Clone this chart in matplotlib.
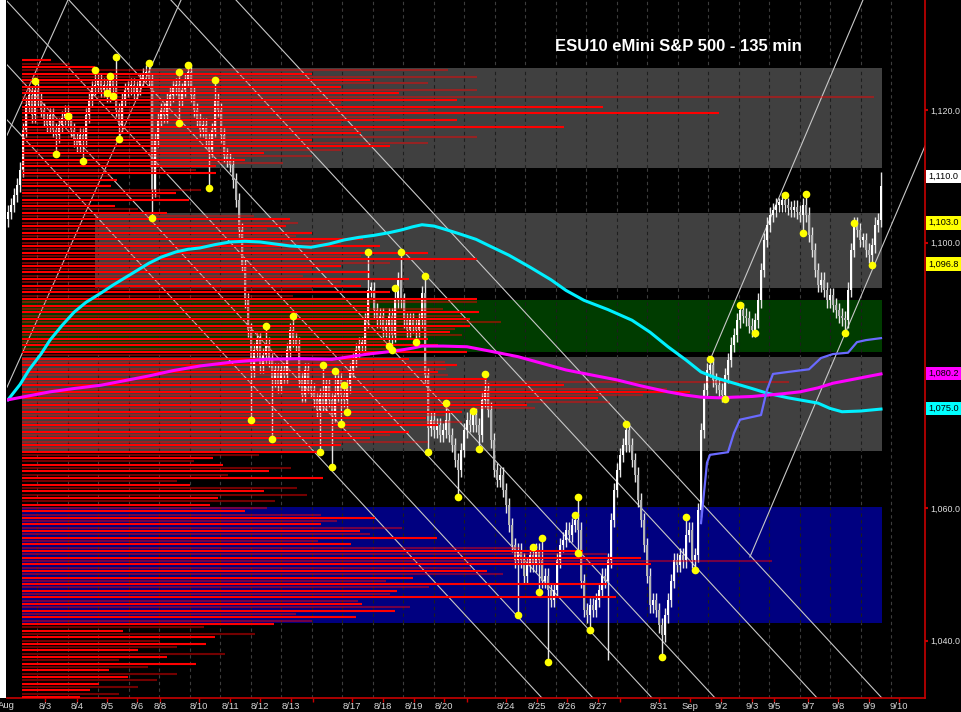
import numpy as np
import matplotlib.pyplot as plt
from matplotlib.collections import LineCollection
from matplotlib.patches import Rectangle

plt.rcParams['font.family'] = ['Liberation Sans', 'DejaVu Sans']

# 135 min closes, one per bar
closes = [
    1104.6, 1105.7, 1107.2, 1108.7, 1111.0, 1117.0,
    1120.8, 1122.3, 1119.2, 1123.0, 1121.5,
    1120.0, 1118.5, 1117.7, 1119.2, 1117.0,
    1116.2, 1117.7, 1118.8, 1119.7, 1118.5,
    1117.0, 1115.5, 1114.7, 1116.2, 1115.5,
    1119.2, 1121.5, 1123.3, 1123.8, 1124.5,
    1123.0, 1123.8, 1122.3, 1124.5, 1123.3,
    1120.0, 1117.7, 1121.5, 1123.0, 1123.3,
    1123.8, 1122.7, 1123.3, 1124.5, 1125.3,
    1125.7, 1124.5, 1108.0, 1115.5, 1118.5,
    1120.0, 1119.2, 1121.5, 1122.3, 1123.3,
    1123.8, 1121.5, 1123.0, 1124.5, 1125.7,
    1122.3, 1120.0, 1118.5, 1117.0, 1117.7,
    1115.5, 1114.0, 1117.0, 1121.5, 1120.0,
    1116.2, 1113.2, 1112.5, 1111.7, 1109.4,
    1106.4, 1101.9, 1096.6, 1091.3, 1086.8,
    1080.8, 1083.8, 1085.3, 1081.5, 1083.0,
    1084.6, 1082.3, 1079.3, 1080.8, 1078.5,
    1080.8, 1080.0, 1083.8, 1086.8, 1085.3,
    1084.6, 1079.3, 1077.0, 1080.8, 1078.5,
    1077.8, 1076.3, 1074.8, 1077.0, 1075.5,
    1078.5, 1076.3, 1074.0, 1077.0, 1079.3,
    1077.0, 1076.3, 1078.5, 1080.8, 1082.3,
    1083.8, 1084.6, 1084.6, 1088.3, 1092.9,
    1092.9, 1089.8, 1088.3, 1089.0, 1086.8,
    1087.5, 1089.0, 1086.1, 1091.3, 1094.4,
    1091.3, 1088.3, 1086.8, 1088.3, 1087.5,
    1086.8, 1088.3, 1092.4, 1080.0, 1072.0,
    1073.3, 1071.7, 1072.5, 1071.0, 1071.7,
    1073.3, 1071.0, 1069.5, 1067.2, 1065.7,
    1068.7, 1071.7, 1073.3, 1072.5, 1074.0,
    1072.5, 1071.0, 1076.3, 1077.8, 1074.8,
    1070.2, 1065.7, 1064.2, 1065.0, 1062.7,
    1060.4, 1057.4, 1054.4, 1052.1, 1053.6,
    1052.1, 1049.8, 1051.4, 1052.9, 1051.4,
    1053.6, 1052.1, 1049.0, 1049.8, 1047.6,
    1046.1, 1047.6, 1052.1, 1054.4, 1055.2,
    1056.7, 1055.9, 1057.4, 1058.2, 1056.7,
    1049.0, 1044.6, 1043.8, 1045.3, 1044.6,
    1046.1, 1047.6, 1049.8, 1049.0, 1052.1,
    1058.2, 1062.7, 1065.7, 1068.0, 1069.5,
    1071.7, 1069.5, 1067.2, 1065.0, 1061.2,
    1058.2, 1054.4, 1049.8, 1045.3, 1046.1,
    1044.6, 1042.3, 1040.8, 1043.8, 1046.1,
    1049.0, 1052.1, 1051.4, 1052.9, 1052.1,
    1055.9, 1056.7, 1052.1, 1052.9, 1059.7,
    1071.7, 1077.8, 1080.8, 1081.5, 1079.3,
    1078.5, 1077.8, 1077.0, 1080.0, 1082.3,
    1084.6, 1086.1, 1088.3, 1089.8, 1089.0,
    1088.6, 1087.5, 1086.8, 1088.3, 1091.3,
    1095.9, 1100.4, 1102.7, 1104.2, 1104.9,
    1105.7, 1105.7, 1106.4, 1105.7, 1105.2,
    1104.9, 1105.4, 1104.6, 1104.2, 1105.7,
    1104.2, 1101.2, 1098.9, 1095.9, 1093.6,
    1094.4, 1092.9, 1091.3, 1092.1, 1090.6,
    1089.8, 1089.0, 1088.6, 1088.3, 1092.9,
    1098.9, 1102.7, 1101.9, 1100.4, 1100.4,
    1098.9, 1098.1, 1099.6, 1102.7, 1103.4,
    1108.5,
]
first_open = 1103.5

# swing points (yellow dots)
dot_bars = [9, 16, 20, 25, 29, 33, 34, 35, 36, 37, 47, 48, 57, 57, 60, 67, 69,
            81, 86, 88, 95, 104, 105, 108, 109, 111, 112, 113, 120, 127, 129, 128,
            131, 136, 139, 140, 146, 150, 155, 157, 159, 170, 175, 177, 178, 180,
            189, 190, 190, 194, 206, 218, 226, 229, 234, 239, 244, 249, 259, 265,
            266, 279, 282, 288]
dot_prices = [1124.4, 1113.4, 1119.1, 1112.3, 1126.0, 1122.6, 1125.1, 1122.1, 1128.0, 1115.6,
              1127.1, 1103.7, 1125.7, 1118.0, 1126.8, 1108.2, 1124.5,
              1073.3, 1087.4, 1070.4, 1088.9, 1068.4, 1081.5, 1066.2, 1080.6, 1072.6,
              1078.5, 1074.5, 1098.6, 1084.4, 1093.2, 1083.8,
              1098.6, 1085.0, 1095.0, 1068.4, 1075.8, 1061.6, 1074.6, 1068.9, 1080.2,
              1043.8, 1054.1, 1047.3, 1055.5, 1036.8,
              1058.9, 1061.6, 1053.2, 1041.6, 1072.6, 1037.5, 1058.6, 1050.6, 1082.4,
              1076.4, 1090.6, 1086.4, 1107.2, 1101.5,
              1107.3, 1086.4, 1103.0, 1096.6]

# long wicks without a dot
spike_bars = [200, 291]
spike_prices = [1037.0, 1110.6]

# moving averages
cyan_bars = [0, 4, 7, 11, 14, 18, 22, 26, 31, 35, 39, 43, 47, 51, 56, 60, 64, 69, 74, 79,
             84, 89, 94, 101, 107, 112, 117, 122, 127, 131, 135, 138, 142, 145, 150, 156,
             161, 167, 174, 181, 186, 192, 200, 208, 214, 220, 226, 231, 236, 242, 248,
             253, 260, 265, 270, 274, 278, 284, 291]
cyan_vals = [1076.3, 1078.6, 1080.8, 1083.2, 1085.3, 1087.5, 1089.5, 1091.0, 1092.4, 1093.6,
             1094.7, 1095.8, 1096.9, 1097.8, 1098.6, 1099.0, 1099.2, 1099.7, 1100.1, 1100.2,
             1100.1, 1099.8, 1099.5, 1099.3, 1099.8, 1100.4, 1100.8, 1101.1, 1101.5, 1101.9,
             1102.4, 1102.7, 1102.5, 1102.1, 1101.4, 1100.5, 1099.4, 1098.1, 1096.3, 1094.4,
             1092.8, 1091.3, 1089.9, 1088.3, 1086.5, 1084.3, 1082.3, 1080.5, 1079.6, 1078.8,
             1078.0, 1077.3, 1076.6, 1076.2, 1075.8, 1075.0, 1074.5, 1074.6, 1074.9]
mag_bars = [0, 7, 14, 22, 31, 39, 47, 55, 64, 75, 86, 97, 108, 114, 120, 126, 131, 135,
            138, 145, 153, 160, 170, 178, 186, 195, 203, 211, 220, 226, 231, 237, 242,
            248, 253, 258, 264, 270, 275, 283, 291]
mag_vals = [1076.3, 1076.9, 1077.5, 1078.0, 1078.5, 1079.2, 1079.9, 1080.7, 1081.4, 1082.0,
            1082.4, 1082.5, 1082.4, 1082.8, 1083.2, 1083.5, 1083.8, 1084.1, 1084.4, 1084.4,
            1084.3, 1083.7, 1082.8, 1081.8, 1080.8, 1080.0, 1079.3, 1078.4, 1077.5, 1077.0,
            1076.7, 1076.6, 1076.7, 1076.8, 1077.0, 1077.2, 1077.5, 1078.1, 1078.8, 1079.5,
            1080.2]
blue_bars = [231, 233, 234, 240, 242, 244, 251, 253, 255, 260, 267, 271, 275, 280,
             283, 286, 291]
blue_vals = [1057.7, 1066.8, 1068.0, 1068.4, 1071.3, 1073.3, 1074.0, 1077.8, 1080.2,
             1080.5, 1080.9, 1082.6, 1083.2, 1083.4, 1085.0, 1085.3, 1085.6]

# volume at price, 0.5 pt levels from the top down
profile_top = 1127.5
profile_vol = [
    30, 50, 75, 440, 300, 470, 360, 420, 330, 470, 390, 880, 450, 330, 600, 420, 720,
    380, 450, 330, 560, 400, 350, 470, 300, 420, 380, 330, 250, 300, 230, 270, 200, 180,
    200, 92, 98, 81, 92, 185, 159, 143, 173, 70, 96, 120, 150,
    240, 277, 285, 273, 253, 300, 283, 352, 330, 370, 300, 420, 350, 470, 380, 330, 300,
    360, 290, 400, 330, 350,
    300, 380, 280, 470,
    470, 360, 435, 472, 455, 463, 495, 463, 447, 442, 455, 420, 380, 430, 400, 460,
    360, 400,
    437, 450, 438, 430, 440, 480, 793, 560, 667, 690, 642, 595, 608, 522, 530, 455, 437,
    417, 455, 430, 350, 400, 380, 360, 420, 330, 300, 310,
    245, 197, 178, 208, 278, 255, 213, 311, 160, 174, 284, 250, 295, 203, 261, 194,
    253, 230, 309, 365, 325, 309, 393, 349, 360, 429, 306, 340, 515, 580, 605, 640, 775,
    650, 464, 480, 497, 404, 376, 605, 421, 388, 380, 614, 347, 351, 401, 385, 283, 345,
    300, 260,
    188, 104, 241, 199, 143, 190, 160, 120, 210, 150, 100, 180, 130, 90, 160, 110, 140,
    80, 120, 70, 100, 60,
]

# support / resistance zones
zone_lo = [1111.25, 1093.15, 1083.5, 1068.6, 1042.6]
zone_hi = [1126.3, 1104.5, 1091.35, 1082.75, 1060.1]
zone_start = [47.3, 29.0, 4.7, 4.7, 4.7]
zone_colors = ['#404040', '#404040', '#003c00', '#404040', '#000080']
zone_end = 291.3

# trend lines
desc_top = [-37.3, -20.3, -0.7, 20.3, 54.3, 76.0]
desc_bottom = [178.0, 195.0, 214.7, 235.7, 269.7, 291.3]
asc_x0 = [234, 247.3, -0.33, -0.33]
asc_y0 = [1082.3, 1052.6, 1116.2, 1078.2]
asc_x1 = [285, 305.7, 20, 57.7]
asc_y1 = [1136.6, 1114.6, 1136.6, 1136.6]

tick_pos = [12.3, 23, 33, 43, 50.7, 63.7, 74, 84, 94.3, 101.7, 114.7, 125, 135.3, 145.3,
            153, 166, 176.3, 186.3, 196.7, 204, 217, 227.3, 237.7, 248, 255.3, 266.7,
            276.7, 287, 297]
tick_lab = ['8/3', '8/4', '8/5', '8/6', '8/8', '8/10', '8/11', '8/12', '8/13', '', '8/17',
            '8/18', '8/19', '8/20', '', '8/24', '8/25', '8/26', '8/27', '', '8/31', 'Sep',
            '9/2', '9/3', '9/5', '9/7', '9/8', '9/9', '9/10']

price_ticks = [1040, 1060, 1100, 1120]
marker_vals = [1110.0, 1103.0, 1096.75, 1080.25, 1075.0]
marker_colors = ['white', '#ffff00', '#ffff00', '#ff00ff', '#00ffff']

YMIN, YMAX = 1031.33, 1136.59
XMIN, XMAX = -0.33, 305.67

fig = plt.figure(figsize=(9.61, 7.12), dpi=100, facecolor='black')
ax = fig.add_axes([7 / 961, 14 / 712, 918 / 961, 698 / 712])
ax.set_facecolor('black')
ax.set_xlim(XMIN, XMAX)
ax.set_ylim(YMIN, YMAX)

# zones + dashed day grid
grid_x = 9.67 + 10.17 * np.arange(29)
ax.vlines(grid_x, YMIN, YMAX, colors='#3c3c3c', linestyles=(0, (3, 3)), lw=0.8, zorder=0.5)
for lo, hi, st, col in zip(zone_lo, zone_hi, zone_start, zone_colors):
    ax.add_patch(Rectangle((st, lo), zone_end - st, hi - lo, fc=col, ec='none', zorder=1))
    gx = grid_x[(grid_x > st) & (grid_x < zone_end)]
    ax.vlines(gx, lo, hi, colors='#1e1e1e', linestyles=(0, (3, 3)), lw=0.8, zorder=1.5)

# trend lines
for t, b in zip(desc_top, desc_bottom):
    ax.plot([t, b], [YMAX, YMIN], color='#c8c8c8', lw=0.8, zorder=2)
for x0, y0, x1, y1 in zip(asc_x0, asc_y0, asc_x1, asc_y1):
    ax.plot([x0, x1], [y0, y1], color='#c8c8c8', lw=0.8, zorder=2)

# candles
c = np.array(closes)
o = np.r_[first_open, c[:-1]]
x = np.arange(len(c))
hi = np.maximum(o, c) + 1.1
lo = np.minimum(o, c) - 1.1
for b, p in zip(dot_bars + spike_bars, dot_prices + spike_prices):
    if p >= max(o[b], c[b]):
        hi[b] = max(hi[b], p)
    elif p <= min(o[b], c[b]):
        lo[b] = min(lo[b], p)
ax.vlines(x, lo, hi, colors='#e6e6e6', lw=1.0, zorder=3)
body_col = np.where(c >= o, '#ffffff', '#b4b4b4')
ax.bar(x, np.maximum(np.abs(c - o), 0.4), bottom=np.minimum(o, c), width=0.92,
       color=body_col, edgecolor='none', zorder=3.1)

# volume profile
levels = profile_top - 0.5 * np.arange(len(profile_vol))
x0 = 4.67
segs = [[(x0, lv), (x0 + v / 3.1, lv)] for lv, v in zip(levels, profile_vol)]
cols = [(1, 0, 0, 1.0) if i % 2 == 0 else (1, 0, 0, 0.45) for i in range(len(segs))]
ax.add_collection(LineCollection(segs, colors=cols, linewidths=1.5, zorder=4))

# averages
ax.plot(cyan_bars, cyan_vals, color='#00f0ff', lw=2.2, zorder=5)
ax.plot(mag_bars, mag_vals, color='#ff00ff', lw=2.2, zorder=5)
ax.plot(blue_bars, blue_vals, color='#6a6aff', lw=1.6, zorder=5)

ax.plot(dot_bars, dot_prices, 'o', color='#ffff00', ms=5.5, mec='none', zorder=7)

ax.text(0.597, 0.933, 'ESU10 eMini S&P 500 - 135 min', transform=ax.transAxes,
        color='white', fontsize=12, fontweight='bold', ha='left', va='center', zorder=10)

# axes styling
for s in ['left', 'top']:
    ax.spines[s].set_visible(False)
for s in ['right', 'bottom']:
    ax.spines[s].set_color('#c80000')
    ax.spines[s].set_linewidth(1.2)
ax.set_xticks(tick_pos)
ax.set_xticklabels(tick_lab)
ax.tick_params(axis='x', colors='#c80000', labelcolor='#d8d8d8', labelsize=6.8,
               length=3, width=1, pad=0)
ax.yaxis.tick_right()
ax.set_yticks(price_ticks)
ax.set_yticklabels([f'{v:,.1f}' for v in price_ticks])
ax.tick_params(axis='y', colors='#c80000', labelcolor='#e0e0e0', labelsize=6.4,
               length=2.5, width=1.5, pad=1)

for v, col in zip(marker_vals, marker_colors):
    ax.text(1.0035, v, f'{v:,.1f}', transform=ax.get_yaxis_transform(), ha='left',
            va='center', fontsize=6.6, color='black', clip_on=False, zorder=10,
            bbox=dict(boxstyle='square,pad=0.25', fc=col, ec='none'))

fig.patches.append(Rectangle((0, 14 / 712), 6 / 961, 698 / 712, transform=fig.transFigure,
                             fc='white', ec='none', zorder=0))
fig.text(15 / 961, 0.003, 'Aug', color='#d8d8d8', fontsize=6.8, ha='right', va='bottom')

fig.savefig('out.png', dpi=100, facecolor='black')
